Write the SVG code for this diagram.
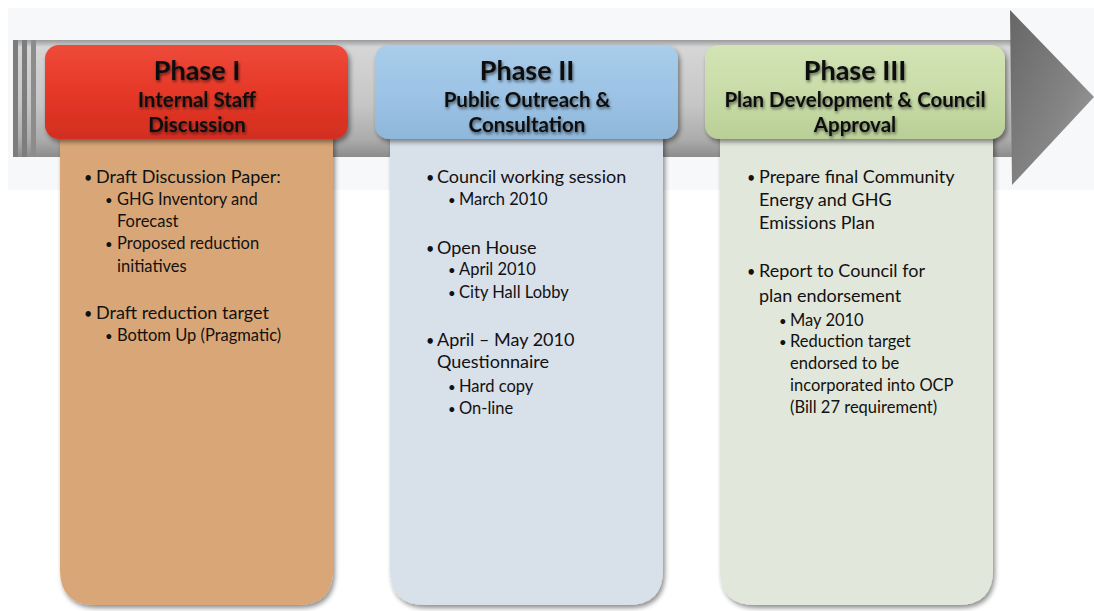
<svg xmlns="http://www.w3.org/2000/svg" width="1094" height="611" viewBox="0 0 1094 611">
  <defs>
    <linearGradient id="shaftGrad" x1="0" y1="0" x2="0" y2="1">
      <stop offset="0" stop-color="#9a9a9a"/>
      <stop offset="0.06" stop-color="#d6d6d6"/>
      <stop offset="0.55" stop-color="#c6c6c6"/>
      <stop offset="0.85" stop-color="#acacac"/>
      <stop offset="1" stop-color="#8c8c8c"/>
    </linearGradient>
    <linearGradient id="headGrad" x1="0" y1="0" x2="1" y2="1">
      <stop offset="0" stop-color="#666666"/>
      <stop offset="0.6" stop-color="#858585"/>
      <stop offset="1" stop-color="#a5a5a5"/>
    </linearGradient>
    <linearGradient id="redGrad" x1="0" y1="0" x2="0" y2="1">
      <stop offset="0" stop-color="#ee4a3a"/>
      <stop offset="0.5" stop-color="#e63828"/>
      <stop offset="1" stop-color="#d22e20"/>
    </linearGradient>
    <linearGradient id="blueGrad" x1="0" y1="0" x2="0" y2="1">
      <stop offset="0" stop-color="#a9cdea"/>
      <stop offset="0.5" stop-color="#9dc4e6"/>
      <stop offset="1" stop-color="#8fb7da"/>
    </linearGradient>
    <linearGradient id="greenGrad" x1="0" y1="0" x2="0" y2="1">
      <stop offset="0" stop-color="#d3e4b5"/>
      <stop offset="0.5" stop-color="#c9dca8"/>
      <stop offset="1" stop-color="#b9cf97"/>
    </linearGradient>
    <filter id="drop" x="-10%" y="-10%" width="125%" height="130%">
      <feGaussianBlur in="SourceAlpha" stdDeviation="2.5"/>
      <feOffset dx="2" dy="3" result="b"/>
      <feComponentTransfer><feFuncA type="linear" slope="0.45"/></feComponentTransfer>
      <feMerge><feMergeNode/><feMergeNode in="SourceGraphic"/></feMerge>
    </filter>
    <filter id="glow" x="-10%" y="-30%" width="120%" height="160%">
      <feGaussianBlur in="SourceAlpha" stdDeviation="1.6"/>
      <feOffset dx="1" dy="1.5"/>
      <feComponentTransfer><feFuncA type="linear" slope="0.55"/></feComponentTransfer>
      <feMerge><feMergeNode/><feMergeNode in="SourceGraphic"/></feMerge>
    </filter>
  </defs>
  <style>
    .title { font-family: Lato, "Liberation Sans", sans-serif; font-weight: bold; font-size: 27px; fill: #111; text-anchor: middle; }
    .sub { font-family: Lato, "Liberation Sans", sans-serif; font-weight: bold; font-size: 20.5px; fill: #111; text-anchor: middle; }
    .b1 { font-family: Lato, "Liberation Sans", sans-serif; font-size: 18px; fill: #111; }
    .b2 { font-family: Lato, "Liberation Sans", sans-serif; font-size: 16.5px; fill: #111; }
    .dot { font-size: 0.8em; }
    .hdr { filter: url(#drop); }
    .body { filter: url(#drop); }
  </style>

  <rect width="1094" height="611" fill="#ffffff"/>
  <rect x="8" y="8" width="1086" height="182" fill="#f6f8fa"/>

  <!-- timeline arrow -->
  <g id="timeline-arrow">
    <rect x="13" y="40" width="1005" height="117" fill="url(#shaftGrad)"/>
    <polygon points="1010,10 1094,97 1012,185" fill="url(#headGrad)"/>
    <rect x="13" y="40" width="5" height="117" fill="#7d7d7d"/>
    <rect x="22" y="40" width="5" height="117" fill="#7d7d7d"/>
    <rect x="31" y="40" width="5" height="117" fill="#8c8c8c"/>
  </g>

  <g id="connectors"></g>

  <!-- Phase I -->
  <g id="phase1">
    <path class="body" d="M60,135 H333 V570 Q333,605 298,605 H95 Q60,605 60,570 Z" fill="#d9a777"/>
    <rect class="hdr" x="45" y="45" width="303" height="94" rx="14" fill="url(#redGrad)"/>
    <g filter="url(#glow)">
      <text class="title" x="197" y="80">Phase I</text>
      <text class="sub" x="197" y="107">Internal Staff</text>
      <text class="sub" x="197" y="132">Discussion</text>
    </g>
    <text class="b1" y="183"><tspan class="dot" x="84">•</tspan><tspan x="96">Draft Discussion Paper:</tspan></text>
    <text class="b2" y="205"><tspan class="dot" x="105">•</tspan><tspan x="117">GHG Inventory and</tspan></text>
    <text class="b2" x="117" y="227">Forecast</text>
    <text class="b2" y="249"><tspan class="dot" x="105">•</tspan><tspan x="117">Proposed reduction</tspan></text>
    <text class="b2" x="117" y="272">initiatives</text>
    <text class="b1" y="319"><tspan class="dot" x="84">•</tspan><tspan x="96">Draft reduction target</tspan></text>
    <text class="b2" y="341"><tspan class="dot" x="105">•</tspan><tspan x="117">Bottom Up (Pragmatic)</tspan></text>
  </g>

  <!-- Phase II -->
  <g id="phase2">
    <path class="body" d="M390,135 H663 V570 Q663,605 628,605 H425 Q390,605 390,570 Z" fill="#d8e0ea"/>
    <rect class="hdr" x="375" y="45" width="303" height="94" rx="14" fill="url(#blueGrad)"/>
    <g filter="url(#glow)">
      <text class="title" x="527" y="80">Phase II</text>
      <text class="sub" x="527" y="107">Public Outreach &amp;</text>
      <text class="sub" x="527" y="132">Consultation</text>
    </g>
    <text class="b1" y="183"><tspan class="dot" x="426">•</tspan><tspan x="437">Council working session</tspan></text>
    <text class="b2" y="205"><tspan class="dot" x="448">•</tspan><tspan x="459">March 2010</tspan></text>
    <text class="b1" y="254"><tspan class="dot" x="426">•</tspan><tspan x="437">Open House</tspan></text>
    <text class="b2" y="275"><tspan class="dot" x="448">•</tspan><tspan x="459">April 2010</tspan></text>
    <text class="b2" y="298"><tspan class="dot" x="448">•</tspan><tspan x="459">City Hall Lobby</tspan></text>
    <text class="b1" y="346"><tspan class="dot" x="426">•</tspan><tspan x="437">April – May 2010</tspan></text>
    <text class="b1" x="437" y="368">Questionnaire</text>
    <text class="b2" y="392"><tspan class="dot" x="448">•</tspan><tspan x="459">Hard copy</tspan></text>
    <text class="b2" y="414"><tspan class="dot" x="448">•</tspan><tspan x="459">On-line</tspan></text>
  </g>

  <!-- Phase III -->
  <g id="phase3">
    <path class="body" d="M720,135 H993 V570 Q993,605 958,605 H755 Q720,605 720,570 Z" fill="#e2e7db"/>
    <rect class="hdr" x="705" y="45" width="300" height="94" rx="14" fill="url(#greenGrad)"/>
    <g filter="url(#glow)">
      <text class="title" x="855" y="80">Phase III</text>
      <text class="sub" x="855" y="107">Plan Development &amp; Council</text>
      <text class="sub" x="855" y="132">Approval</text>
    </g>
    <text class="b1" y="183"><tspan class="dot" x="747">•</tspan><tspan x="759">Prepare final Community</tspan></text>
    <text class="b1" x="759" y="206">Energy and GHG</text>
    <text class="b1" x="759" y="229">Emissions Plan</text>
    <text class="b1" y="277"><tspan class="dot" x="747">•</tspan><tspan x="759">Report to Council for</tspan></text>
    <text class="b1" x="759" y="302">plan endorsement</text>
    <text class="b2" y="326"><tspan class="dot" x="779">•</tspan><tspan x="790">May 2010</tspan></text>
    <text class="b2" y="347"><tspan class="dot" x="779">•</tspan><tspan x="790">Reduction target</tspan></text>
    <text class="b2" x="790" y="369">endorsed to be</text>
    <text class="b2" x="790" y="391">incorporated into OCP</text>
    <text class="b2" x="790" y="413">(Bill 27 requirement)</text>
  </g>
</svg>
